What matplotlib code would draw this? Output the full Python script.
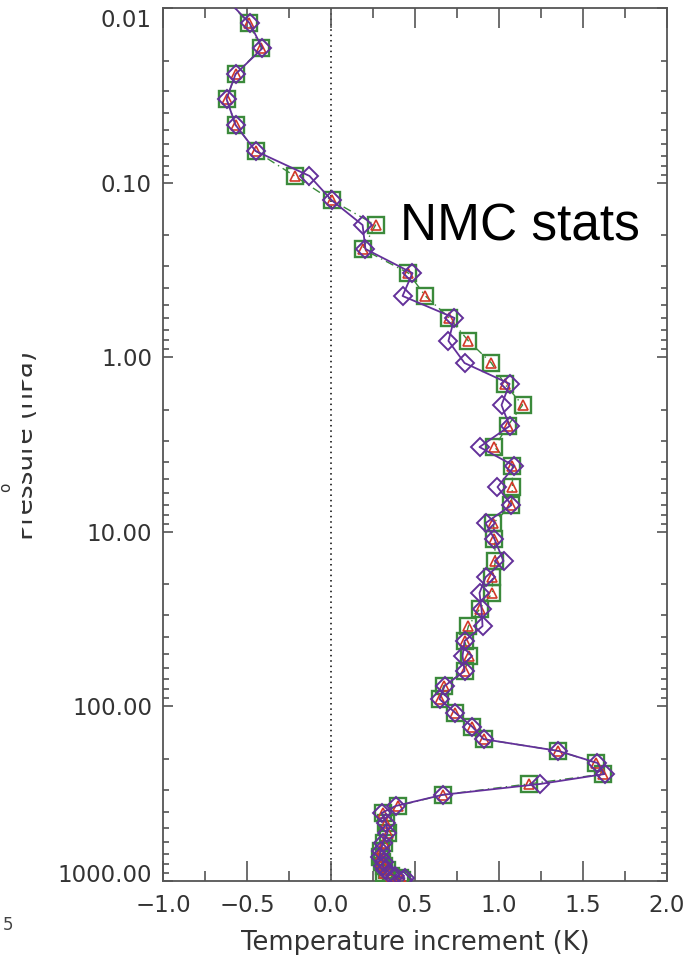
import matplotlib
matplotlib.use("Agg")
import matplotlib.pyplot as plt
import matplotlib.transforms as mtransforms
from matplotlib.patches import Rectangle
from matplotlib.ticker import FixedLocator, LogLocator, NullFormatter, MultipleLocator

# Pressure levels (hPa) shared by all profiles
pressure = [0.00854, 0.0122, 0.0170, 0.0239, 0.0332, 0.0468, 0.0659, 0.0916,
            0.126, 0.175, 0.240, 0.330, 0.446, 0.596, 0.807, 1.08, 1.42,
            1.88, 2.48, 3.27, 4.20, 5.54, 7.03, 8.91, 11.0, 14.7, 18.2,
            22.4, 27.7, 34.7, 42.2, 51.4, 62.7, 76.4, 90.8, 109, 131, 154,
            180, 211, 244, 278, 321, 372, 408, 466, 531, 606, 674, 729, 778,
            820, 865, 900, 935, 962, 990]

# Mean temperature increment (K), square-marker profile
incr_square = [-0.640, -0.491, -0.414, -0.568, -0.622, -0.568, -0.449, -0.217,
               0.003, 0.265, 0.188, 0.461, 0.562, 0.705, 0.818, 0.955, 1.033,
               1.140, 1.051, 0.973, 1.080, 1.080, 1.074, 0.967, 0.973, 0.979,
               0.961, 0.961, 0.884, 0.818, 0.795, 0.824, 0.795, 0.670, 0.646,
               0.741, 0.842, 0.908, 1.354, 1.580, 1.622, 1.176, 0.664, 0.396,
               0.307, 0.330, 0.342, 0.313, 0.295, 0.289, 0.301, 0.318, 0.336,
               0.313, 0.360, 0.408, 0.420]

# Triangle-marker profile (coincides with the square profile)
incr_triangle = list(incr_square)

# Diamond-marker profile
incr_diamond = [-0.640, -0.485, -0.408, -0.568, -0.622, -0.568, -0.449, -0.128,
                0.003, 0.188, 0.205, 0.485, 0.426, 0.735, 0.699, 0.795, 1.063,
                1.015, 1.063, 0.884, 1.092, 0.991, 1.074, 0.920, 0.973, 1.027,
                0.920, 0.884, 0.896, 0.902, 0.795, 0.783, 0.795, 0.676, 0.646,
                0.741, 0.842, 0.908, 1.354, 1.586, 1.628, 1.247, 0.664, 0.384,
                0.301, 0.330, 0.336, 0.307, 0.295, 0.289, 0.313, 0.307, 0.324,
                0.348, 0.378, 0.438, 0.430]

x_ticks = [-1.0, -0.5, 0.0, 0.5, 1.0, 1.5, 2.0]
x_tick_labels = ["\u22121.0", "\u22120.5", "0.0", "0.5", "1.0", "1.5", "2.0"]
y_ticks = [0.01, 0.1, 1.0, 10.0, 100.0, 1000.0]
y_tick_labels = ["0.01", "0.10", "1.00", "10.00", "100.00", "1000.00"]

W, H = 685, 955
fig = plt.figure(figsize=(W / 100, H / 100), dpi=100)
fig.patch.set_facecolor("white")

left, right, top, bottom = 163, 667, 8, 881
ax = fig.add_axes([left / W, 1 - bottom / H, (right - left) / W, (bottom - top) / H])

txt_col = "#333333"
axis_col = "#555555"
fs = 16.5

# zero line
ax.axvline(0.0, color="black", linestyle=(0, (1, 2.5)), linewidth=1.1, zorder=1)

green = "#3b8a3b"
red = "#d23a2a"
purple = "#63309a"

ax.plot(incr_square, pressure, linestyle=(0, (6, 3, 1, 3)), color=green,
        linewidth=1.0, marker="s", markersize=12, markerfacecolor="none",
        markeredgecolor=green, markeredgewidth=1.7, zorder=3)
ax.plot(incr_triangle, pressure, linestyle="none", marker="^", markersize=7.5,
        markerfacecolor="none", markeredgecolor=red, markeredgewidth=1.2, zorder=4)
ax.plot(incr_diamond, pressure, linestyle="-", color=purple, linewidth=1.3,
        marker="D", markersize=9, markerfacecolor="none",
        markeredgecolor=purple, markeredgewidth=1.4, zorder=5)

ax.set_yscale("log")
ax.set_xlim(-1.0, 2.0)
ax.set_ylim(1000, 0.01)

ax.xaxis.set_major_locator(FixedLocator(x_ticks))
ax.set_xticklabels(x_tick_labels)
ax.xaxis.set_minor_locator(MultipleLocator(0.25))
ax.yaxis.set_major_locator(FixedLocator(y_ticks))
ax.yaxis.set_minor_locator(LogLocator(base=10, subs=range(2, 10), numticks=20))
ax.yaxis.set_minor_formatter(NullFormatter())
ax.set_yticklabels([""] * len(y_ticks))

ax.tick_params(axis="both", which="both", direction="in", top=True, right=True,
               color=axis_col, width=1.2)
ax.tick_params(axis="x", which="major", length=14.4, pad=9, labelsize=fs,
               labelcolor=txt_col)
ax.tick_params(axis="x", which="minor", length=7.2)
ax.tick_params(axis="y", which="major", length=7.5, pad=0)
ax.tick_params(axis="y", which="minor", length=4.5)

for sp in ax.spines.values():
    sp.set_color(axis_col)
    sp.set_linewidth(1.3)

# y tick labels, end labels pulled inside the axis extent
shifts = {0: -10, len(y_ticks) - 1: 8}
for i, (val, lab) in enumerate(zip(y_ticks, y_tick_labels)):
    tr = mtransforms.offset_copy(ax.get_yaxis_transform(), fig=fig,
                                 x=-11, y=shifts.get(i, 0), units="dots")
    ax.text(0, val, lab, transform=tr, ha="right", va="center_baseline",
            fontsize=fs, color=txt_col, clip_on=False)

ax.set_xlabel("Temperature increment (K)", fontsize=18.5, color=txt_col,
              labelpad=10)

fig.text(39 / W, 1 - 445 / H, "Pressure (hPa)", rotation=90, ha="right",
         va="center", fontsize=19, color=txt_col)
# strip along the left edge of the page
fig.patches.append(Rectangle((0, 1 - 570 / H), 22 / W, 250 / H,
                             transform=fig.transFigure, facecolor="white",
                             edgecolor="none", zorder=5))
fig.text(6 / W, 1 - 487 / H, "o", rotation=90, ha="center", va="center",
         fontsize=11, color=txt_col, zorder=6)
fig.text(8 / W, 1 - 925 / H, "5", ha="center", va="center", fontsize=12,
         color="#444444")

fig.text(400 / W, 1 - 240 / H, "NMC stats", ha="left", va="baseline",
         fontsize=37, family="Liberation Sans", color="black")

fig.savefig("out.png", dpi=100)
